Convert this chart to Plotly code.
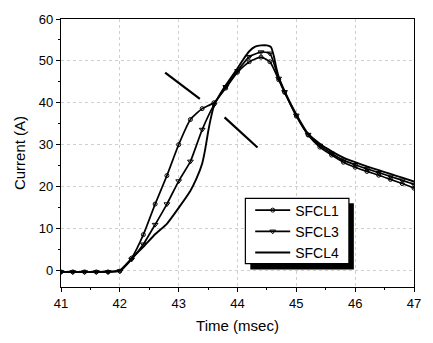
import plotly.graph_objects as go

# ---- data ----
x_marked = [41.0, 41.2, 41.4, 41.6, 41.8, 42.0, 42.2, 42.4, 42.6, 42.8, 43.0, 43.2,
            43.4, 43.6, 43.8, 44.0, 44.2, 44.4, 44.55, 44.7, 44.8, 45.0, 45.2, 45.4,
            45.6, 45.8, 46.0, 46.2, 46.4, 46.6, 46.8, 47.0]
sfcl1 = [-0.4, -0.4, -0.4, -0.4, -0.4, -0.2, 2.9, 8.5, 15.8, 22.6, 30.0, 36.0,
         38.6, 40.0, 43.5, 47.3, 49.8, 50.9, 49.8, 45.5, 42.5, 36.8, 32.3, 29.4,
         27.5, 25.8, 24.6, 23.6, 22.7, 21.7, 20.7, 19.6]
sfcl3 = [-0.4, -0.4, -0.4, -0.4, -0.4, -0.2, 2.6, 6.2, 10.9, 15.8, 21.3, 26.0,
         33.6, 39.5, 43.8, 47.6, 51.0, 52.1, 51.8, 45.8, 42.6, 37.0, 32.4, 29.8,
         27.9, 26.3, 25.2, 24.2, 23.3, 22.4, 21.5, 20.5]
x_sfcl4 = [41.0, 41.5, 42.0, 42.2, 42.4, 42.6, 42.8, 43.0, 43.2, 43.3, 43.4, 43.45,
           43.5, 43.55, 43.6, 43.7, 43.8, 44.0, 44.1, 44.2, 44.3, 44.4, 44.5, 44.57,
           44.62, 44.66, 44.7, 44.8, 45.0, 45.2, 45.4, 45.6, 45.8, 46.0, 46.2, 46.4,
           46.6, 46.8, 47.0]
sfcl4 = [-0.4, -0.4, 0.0, 2.8, 5.6, 8.6, 11.1, 14.9, 19.0, 21.8, 25.5, 28.8,
         33.0, 36.5, 39.3, 42.0, 44.2, 48.2, 50.4, 52.3, 53.4, 53.7, 53.7, 53.3,
         51.0, 48.3, 46.2, 42.8, 37.2, 32.6, 30.2, 28.4, 26.9, 25.8, 24.8, 23.9,
         23.0, 22.1, 21.2]
series_names = ["SFCL1", "SFCL3", "SFCL4"]

# annotation pointer segments (data coords)
seg1 = ([42.77, 43.36], [47.2, 40.9])
seg2 = ([43.78, 44.34], [36.5, 29.3])

FONT = "Liberation Sans, Arial, sans-serif"

fig = go.Figure()
fig.add_trace(go.Scatter(x=x_marked, y=sfcl1, name=series_names[0], mode="lines+markers",
                         line=dict(color="black", width=1.7, shape="spline", smoothing=0.5),
                         marker=dict(symbol="circle-open", size=4, color="black",
                                     line=dict(width=1))))
fig.add_trace(go.Scatter(x=x_marked, y=sfcl3, name=series_names[1], mode="lines+markers",
                         line=dict(color="black", width=1.7, shape="spline", smoothing=0.5),
                         marker=dict(symbol="triangle-down-open", size=5, color="black",
                                     line=dict(width=1))))
fig.add_trace(go.Scatter(x=x_sfcl4, y=sfcl4, name=series_names[2], mode="lines",
                         line=dict(color="black", width=1.9, shape="spline", smoothing=0.4)))

for sx, sy in (seg1, seg2):
    fig.add_shape(type="line", x0=sx[0], y0=sy[0], x1=sx[1], y1=sy[1],
                  xref="x", yref="y", line=dict(color="black", width=2.2))

# legend frame with drop shadow
fig.add_shape(type="rect", xref="paper", yref="paper",
              x0=0.5363, x1=0.8296, y0=0.0655, y1=0.3127,
              fillcolor="black", line=dict(width=0), layer="above")
fig.add_shape(type="rect", xref="paper", yref="paper",
              x0=0.5223, x1=0.8156, y0=0.0873, y1=0.3309,
              fillcolor="white", line=dict(color="black", width=1.2), layer="above")

fig.update_layout(
    width=433, height=343,
    margin=dict(l=61, r=14, t=12, b=56),
    paper_bgcolor="white", plot_bgcolor="white",
    font=dict(family=FONT, size=13, color="black"),
    showlegend=True,
    legend=dict(x=0.536, y=0.207, xanchor="left", yanchor="middle",
                bgcolor="rgba(0,0,0,0)", borderwidth=0,
                font=dict(family=FONT, size=14, color="black"),
                tracegroupgap=0, itemwidth=35),
)
fig.update_xaxes(range=[41, 47], dtick=1, showline=True, linecolor="black", linewidth=1.2,
                 mirror=True, ticks="outside", ticklen=4, tickcolor="black",
                 minor=dict(dtick=0.5, ticks="outside", ticklen=2, tickcolor="black"),
                 showgrid=True, gridcolor="#cfcfcf", griddash="dot", gridwidth=1,
                 zeroline=False, tickfont=dict(size=13),
                 title=dict(text="Time (msec)", font=dict(size=15), standoff=10))
fig.update_yaxes(range=[-4, 60], dtick=10, tick0=0, showline=True, linecolor="black", linewidth=1.2,
                 mirror=True, ticks="outside", ticklen=4, tickcolor="black",
                 minor=dict(dtick=5, ticks="outside", ticklen=2, tickcolor="black"),
                 showgrid=True, gridcolor="#cfcfcf", griddash="dot", gridwidth=1,
                 zeroline=False, tickfont=dict(size=13),
                 title=dict(text="Current (A)", font=dict(size=15), standoff=9))

fig.write_html("out.html")
